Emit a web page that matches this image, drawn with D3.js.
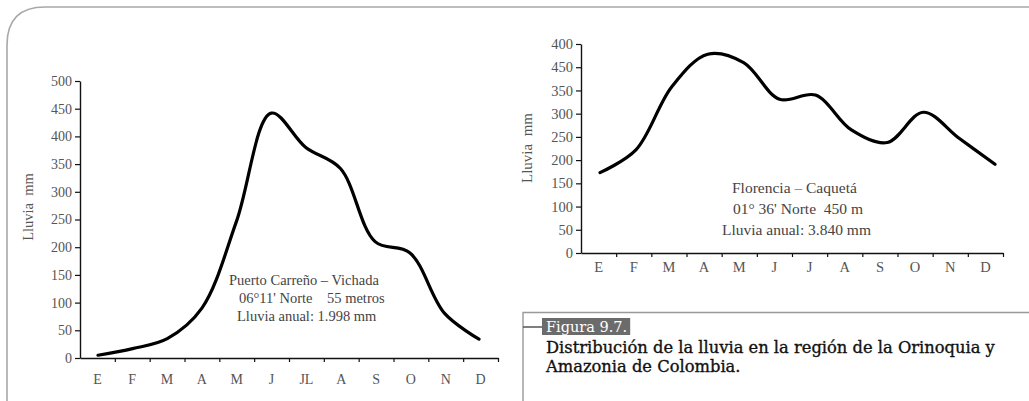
<!DOCTYPE html>
<html><head><meta charset="utf-8">
<script src="https://cdn.jsdelivr.net/npm/d3@7"></script>
<style>
html,body{margin:0;padding:0;background:#fff;}
svg{display:block;}
</style></head>
<body>
<svg id="c" width="1029" height="401"></svg>
<script>
// ---- Data ----
const monthsLeft = ["E","F","M","A","M2","J","JL","A2","S","O","N","D"];
const monthLabelsLeft = ["E","F","M","A","M","J","JL","A","S","O","N","D"];
const rainLeft = [5, 17, 35, 90, 247, 442, 380, 342, 210, 190, 81, 34];
const yTicksLeft = [0,50,100,150,200,250,300,350,400,450,500];

const monthsRight = ["E","F","M","A","M2","J","J2","A2","S","O","N","D"];
const monthLabelsRight = ["E","F","M","A","M","J","J","A","S","O","N","D"];
const rainRight = [173, 222, 358, 428, 410, 331, 340, 265, 238, 303, 247, 191];
const yTicksRight = [0,50,100,150,200,250,300,350,400,450];
const yTickLabelsRight = ["0","50","100","150","200","250","300","350","450","400"];

const noteLeft = ["Puerto Carreño – Vichada", "06°11' Norte    55 metros", "Lluvia anual: 1.998 mm"];
const noteRight = ["Florencia – Caquetá", "01° 36' Norte  450 m", "Lluvia anual: 3.840 mm"];
const captionTag = "Figura 9.7.";
const captionLines = ["Distribución de la lluvia en la región de la Orinoquia y", "Amazonia de Colombia."];

const svg = d3.select("#c");
const FONT = "'Liberation Serif', 'DejaVu Serif', serif";
const CAPFONT = "'DejaVu Serif', 'Liberation Serif', serif";

// ---- Frame ----
svg.append("path")
  .attr("d", "M7,401 L7,45 Q7,7 45,7 L1029,7")
  .attr("fill","none").attr("stroke","#a8a8a8").attr("stroke-width",1.6);

// ---- Chart builder ----
function drawChart(cfg){
  const g = svg.append("g");
  const x = d3.scaleBand().domain(cfg.months).range([cfg.x0, cfg.x1]).padding(0);
  const xl = d3.scalePoint().domain(cfg.months).range(cfg.lineRange);
  const y = d3.scaleLinear().domain(cfg.yDomain).range([cfg.y0, cfg.y1]);

  // y axis
  const ya = d3.axisLeft(y).tickValues(cfg.yTicks).tickSize(5).tickSizeOuter(0)
    .tickFormat((d,i)=>cfg.yTickLabels[i]);
  const yg = g.append("g").attr("transform",`translate(${cfg.x0},0)`).call(ya);
  yg.select(".domain").attr("stroke","#111").attr("stroke-width",1.4);
  yg.selectAll(".tick line").attr("stroke","#111").attr("stroke-width",1.2);
  yg.selectAll(".tick text").attr("font-family",FONT).attr("font-size",cfg.tickFont)
    .attr("fill","#555").attr("x",-8);

  // x axis : line with ticks at band boundaries
  const xb = d3.scaleLinear().domain([0, cfg.months.length]).range([cfg.x0, cfg.x1]);
  const xa = d3.axisBottom(xb).tickValues(d3.range(1, cfg.months.length+1)).tickSize(4)
    .tickSizeOuter(0).tickFormat("");
  const xg = g.append("g").attr("transform",`translate(0,${cfg.y0})`).call(xa);
  xg.select(".domain").attr("stroke","#111").attr("stroke-width",1.4);
  xg.selectAll(".tick line").attr("stroke","#111").attr("stroke-width",1.2);
  // labels
  const xla = d3.axisBottom(x).tickSize(0).tickFormat((d,i)=>cfg.monthLabels[i]);
  const xlg = g.append("g").attr("transform",`translate(0,${cfg.y0})`).call(xla);
  xlg.select(".domain").remove();
  xlg.selectAll(".tick text").attr("font-family",FONT).attr("font-size",cfg.tickFont)
    .attr("fill","#555").attr("dy",0).attr("y",cfg.xLabelDy);

  // y label
  g.append("text").attr("transform",`translate(${cfg.ylabX},${cfg.ylabY}) rotate(-90)`)
    .attr("text-anchor","middle").attr("font-family",FONT).attr("font-size",cfg.ylabFont)
    .attr("fill","#555").attr("xml:space","preserve").text("Lluvia  mm");

  // line
  const line = d3.line().x((d,i)=>xl(cfg.months[i])).y(d=>y(d)).curve(d3.curveCatmullRom.alpha(0.5));
  g.append("path").datum(cfg.values).attr("d",line).attr("fill","none")
    .attr("stroke","#000").attr("stroke-width",3.2).attr("stroke-linejoin","round").attr("stroke-linecap","round");

  // note
  const t = g.append("text").attr("font-family",FONT).attr("font-size",cfg.noteFont).attr("fill","#444")
    .attr("xml:space","preserve");
  cfg.note.forEach((s,i)=>{
    t.append("tspan").attr("x",cfg.noteX[i]).attr("y",cfg.noteY + i*cfg.noteDy).text(s);
  });
}

drawChart({
  months: monthsLeft, monthLabels: monthLabelsLeft, values: rainLeft,
  x0: 80, x1: 498, lineRange:[98, 479], y0: 358, y1: 81, yDomain:[0,500],
  yTicks: yTicksLeft, yTickLabels: yTicksLeft.map(String), tickFont: 14,
  xLabelDy: 26, ylabX: 33, ylabY: 207, ylabFont: 14.5,
  note: noteLeft, noteX:[229, 239, 237], noteY: 285, noteDy: 18, noteFont: 14.5
});

drawChart({
  months: monthsRight, monthLabels: monthLabelsRight, values: rainRight,
  x0: 581, x1: 1003, lineRange:[600, 995], y0: 253, y1: 44, yDomain:[0,450],
  yTicks: yTicksRight, yTickLabels: yTickLabelsRight, tickFont: 14.5,
  xLabelDy: 19, ylabX: 532, ylabY: 148, ylabFont: 15,
  note: noteRight, noteX:[732, 733, 722], noteY: 193, noteDy: 21, noteFont: 15.5
});

// ---- Caption box ----
svg.append("path").attr("d","M1029,312.5 L523,312.5 L523,401")
  .attr("fill","none").attr("stroke","#999").attr("stroke-width",1.4);
svg.append("line").attr("x1",523).attr("x2",542).attr("y1",327).attr("y2",327)
  .attr("stroke","#555").attr("stroke-width",1.5);
const tagRect = svg.append("rect").attr("fill","#6b6b6b");
const tag = svg.append("text").attr("x",546).attr("y",332).attr("font-family",CAPFONT)
  .attr("font-size",14.5).attr("fill","#fff").text(captionTag);
const bb = tag.node().getBBox();
tagRect.attr("x",542).attr("y",318).attr("width",bb.x + bb.width + 3 - 542).attr("height",17);
const cap = svg.append("text").attr("font-family",CAPFONT).attr("font-size",15)
  .attr("fill","#111").attr("stroke","#111").attr("stroke-width",0.35);
captionLines.forEach((s,i)=>cap.append("tspan").attr("x",546).attr("y",353+i*19).text(s));
// fit first caption line to reference width
const w0 = cap.select("tspan").node().getComputedTextLength();
cap.attr("font-size", 15 * 449 / w0);
</script>
</body></html>
